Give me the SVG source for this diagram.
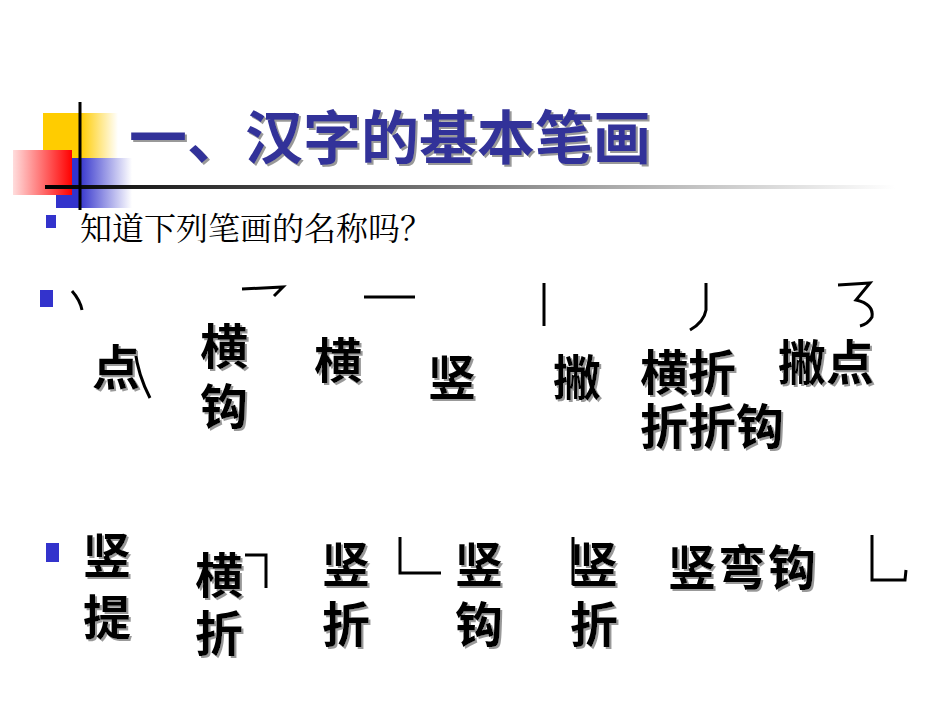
<svg xmlns="http://www.w3.org/2000/svg" width="950" height="713" viewBox="0 0 950 713">
<defs>
<linearGradient id="hl" x1="0" x2="1" y1="0" y2="0"><stop offset="0" stop-color="#000"/><stop offset="1" stop-color="#fff"/></linearGradient>
<linearGradient id="rd" x1="1" x2="0" y1="0" y2="0"><stop offset="0" stop-color="#f00"/><stop offset="1" stop-color="#fdd"/></linearGradient>
<linearGradient id="bl" x1="0" x2="1" y1="0" y2="0"><stop offset="0.3" stop-color="#33c"/><stop offset="1" stop-color="#fff"/></linearGradient>
<linearGradient id="yl" x1="0" x2="1" y1="0" y2="0"><stop offset="0.5" stop-color="#fc0"/><stop offset="1" stop-color="#fff"/></linearGradient>
<filter id="sh" x="-5%" y="-5%" width="110%" height="115%"><feDropShadow dx="2" dy="2" stdDeviation="0.5" flood-color="#999"/></filter>
<style>
.t{font-family:"Noto Sans CJK SC",sans-serif;font-weight:bold;font-size:48px;fill:#000;filter:url(#sh)}
.k{fill:none;stroke:#000;stroke-width:3}
.b{fill:#33c}
</style>
</defs>
<g id="deco">
<rect x="43" y="113" width="75" height="47" fill="url(#yl)"/>
<rect x="56" y="158" width="76" height="50" fill="url(#bl)"/>
<rect x="13" y="150" width="59" height="45" fill="url(#rd)"/>
<rect x="45" y="185" width="850" height="4" fill="url(#hl)"/>
<line x1="80" y1="102" x2="80" y2="210" stroke="#000" stroke-width="3"/>
</g>
<g id="title">
<text x="129" y="159" font-family="Noto Sans CJK SC,sans-serif" font-weight="bold" font-size="58" fill="#333399" filter="url(#sh)">一、汉字的基本笔画</text>
</g>
<rect x="46" y="215" width="10" height="13" class="b"/>
<text x="80" y="240" font-family="Noto Serif CJK SC,Noto Sans CJK SC,serif" font-size="32" fill="#000">知道下列笔画的名称吗？</text>
<rect x="40" y="290" width="13" height="17" class="b"/>
<rect x="46" y="543" width="13" height="19" class="b"/>
<g id="strokes">
<path class="k" d="M72 291 Q80 300 82 310"/>
<path class="k" d="M242 289 L283 287 L274 296"/>
<path class="k" d="M364 297 L415 297"/>
<path class="k" d="M544 283 L544 326"/>
<path class="k" d="M706 283 L706 310 Q704 322 690 330"/>
<path class="k" d="M838 285 L870 283 L856 300 Q874 304 872 317 Q868 324 860 326"/>
<path class="k" d="M135 350 Q138 375 150 398"/>
<path class="k" d="M245 555 L266 555 L266 588"/>
<path class="k" d="M400 537 L400 573 L441 573"/>
<path class="k" d="M573 537 L573 585"/>
<path class="k" d="M872 535 L872 580 L905 580 L906 570"/>
</g>
<g id="row1">
<text class="t" x="92" y="385">点</text>
<text class="t" x="200" y="364">横</text>
<text class="t" x="200" y="424">钩</text>
<text class="t" x="314" y="378">横</text>
<text class="t" x="428" y="395">竖</text>
<text class="t" x="553" y="395">撇</text>
<text class="t" x="640" y="390">横折</text>
<text class="t" x="640" y="444">折折钩</text>
<text class="t" x="778" y="380">撇点</text>
</g>
<g id="row2">
<text class="t" x="83" y="573">竖</text>
<text class="t" x="83" y="635">提</text>
<text class="t" x="195" y="593">横</text>
<text class="t" x="195" y="651">折</text>
<text class="t" x="322" y="582">竖</text>
<text class="t" x="322" y="642">折</text>
<text class="t" x="455" y="582">竖</text>
<text class="t" x="455" y="642">钩</text>
<text class="t" x="570" y="582">竖</text>
<text class="t" x="570" y="642">折</text>
<text class="t" x="668" y="585" letter-spacing="2">竖弯钩</text>
</g>
</svg>
